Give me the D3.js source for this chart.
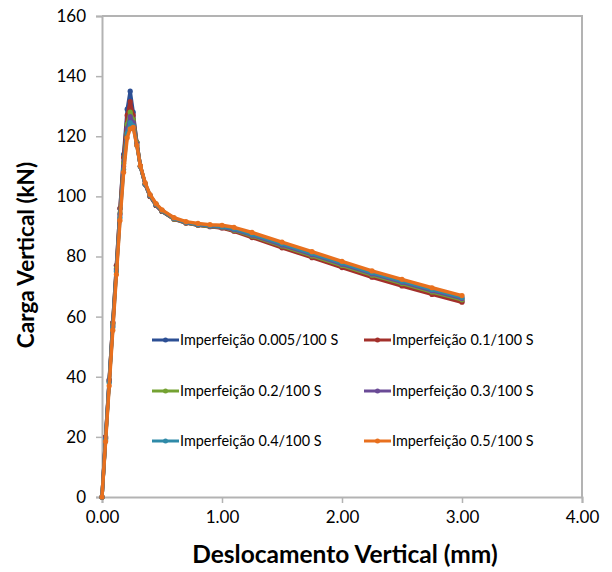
<!DOCTYPE html>
<html>
<head>
<meta charset="utf-8">
<script src="https://cdn.jsdelivr.net/npm/d3@7"></script>
<style>
  body { margin: 0; background: #fff; }
  text { font-family: Lato, "Open Sans", sans-serif; fill: #000; }
</style>
</head>
<body>
<script>
"use strict";

// displacement (mm), shared by every series
var desloc = [0, 0.03, 0.06, 0.09, 0.12, 0.15, 0.18, 0.21, 0.235, 0.26, 0.29, 0.32, 0.36, 0.40, 0.45,
              0.50, 0.60, 0.70, 0.80, 0.90, 1.00, 1.10, 1.25, 1.50, 1.75, 2.00, 2.25, 2.50, 2.75, 3.00];

// load (kN) for each imperfection
var carga005 = [0, 20, 39, 58, 77, 96, 114, 129, 135, 128, 118, 110, 104, 100, 97,
                95, 92.5, 91.2, 90.5, 90.0, 89.6, 88.6, 86.6, 83.2, 79.9, 76.6, 73.4, 70.6, 67.8, 65.2];
var carga01  = [0, 20, 39, 58, 77, 96, 113, 127, 131.5, 127, 118, 110, 104, 100, 97,
                95, 92.4, 91.1, 90.4, 89.9, 89.5, 88.4, 86.3, 82.9, 79.6, 76.3, 73.1, 70.2, 67.4, 64.8];
var carga02  = [0, 19.5, 38.5, 57.5, 76, 94.5, 111, 124, 128, 125.5, 118, 110, 104, 100.2, 97.2,
                95.1, 92.5, 91.2, 90.5, 90.0, 89.7, 88.7, 86.8, 83.5, 80.2, 77.0, 73.8, 71.0, 68.2, 65.6];
var carga03  = [0, 19.5, 38.5, 57, 75.5, 94, 110, 122.5, 126.5, 124.5, 117.5, 110, 104, 100.3, 97.3,
                95.2, 92.6, 91.3, 90.6, 90.1, 89.8, 88.9, 87.1, 83.8, 80.6, 77.4, 74.2, 71.4, 68.6, 66.0];
var carga04  = [0, 19, 38, 56.5, 75, 93, 109, 121, 124.5, 123.5, 117, 110, 104.2, 100.4, 97.4,
                95.3, 92.7, 91.4, 90.7, 90.3, 90.0, 89.2, 87.4, 84.2, 81.0, 77.8, 74.6, 71.8, 69.0, 66.4];
var carga05  = [0, 18.5, 37, 55.5, 74, 92, 108, 119.5, 122.5, 123, 117, 110.2, 104.5, 100.6, 97.6,
                95.5, 92.9, 91.6, 91.0, 90.6, 90.4, 89.7, 88.0, 84.8, 81.6, 78.4, 75.2, 72.4, 69.6, 67.0];

var seriesNames = ["Imperfeição 0.005/100 S", "Imperfeição 0.1/100 S", "Imperfeição 0.2/100 S",
                   "Imperfeição 0.3/100 S", "Imperfeição 0.4/100 S", "Imperfeição 0.5/100 S"];
var seriesColors = ["#2c4f94", "#a3302b", "#74a232", "#6a4a96", "#2f8aa8", "#e8701e"];

var xTicks = [0, 1, 2, 3, 4];
var yTicks = [0, 20, 40, 60, 80, 100, 120, 140, 160];

var width = 612;
var height = 572;
var margin = { top: 16, left: 102, right: 30, bottom: 75 };

var allSeries = [carga005, carga01, carga02, carga03, carga04, carga05].map(function(vals, i) {
	return {
		name: seriesNames[i],
		color: seriesColors[i],
		points: vals.map(function(v, j) { return [desloc[j], v]; })
	};
});

var svg = d3.select("body").append("svg")
	.attr("width", width)
	.attr("height", height);

var xScale = d3.scaleLinear()
	.domain([0, 4])
	.range([margin.left, width - margin.right]);

var yScale = d3.scaleLinear()
	.domain([0, 160])
	.range([height - margin.bottom, margin.top]);

var axisColor = "#b3b3b3";

// plot frame (top + right)
svg.append("path")
	.attr("d", "M" + xScale(0) + "," + yScale(160) + "H" + xScale(4) + "V" + yScale(0))
	.attr("fill", "none")
	.attr("stroke", axisColor)
	.attr("stroke-width", 2);

// y axis
var yAxis = svg.append("g")
	.attr("transform", "translate(" + xScale(0) + ",0)")
	.call(d3.axisLeft(yScale).tickValues(yTicks).tickSize(6).tickPadding(10).tickFormat(d3.format("d")));
yAxis.select(".domain").attr("stroke", axisColor).attr("stroke-width", 2);
yAxis.selectAll(".tick line").attr("stroke", axisColor).attr("stroke-width", 1.5);
yAxis.selectAll(".tick text").style("font-size", "17px").attr("fill", "#000");

// x axis
var xAxis = svg.append("g")
	.attr("transform", "translate(0," + yScale(0) + ")")
	.call(d3.axisBottom(xScale).tickValues(xTicks).tickSize(6).tickPadding(8).tickFormat(d3.format(".2f")));
xAxis.select(".domain").attr("stroke", axisColor).attr("stroke-width", 2);
xAxis.selectAll(".tick line").attr("stroke", axisColor).attr("stroke-width", 1.5);
xAxis.selectAll(".tick text").style("font-size", "17px").attr("fill", "#000");

// axis titles
svg.append("text")
	.attr("x", 345)
	.attr("y", 563)
	.attr("text-anchor", "middle")
	.style("font-size", "24.5px")
	.style("font-weight", "bold")
	.text("Deslocamento Vertical (mm)");

svg.append("text")
	.attr("transform", "translate(34," + 255 + ") rotate(-90)")
	.attr("text-anchor", "middle")
	.style("font-size", "22.5px")
	.style("font-weight", "bold")
	.text("Carga Vertical (kN)");

// series
var line = d3.line()
	.x(function(d) { return xScale(d[0]); })
	.y(function(d) { return yScale(d[1]); });

var seriesG = svg.selectAll(".serie")
	.data(allSeries)
	.enter()
	.append("g")
	.attr("class", "serie");

seriesG.append("path")
	.attr("d", function(d) { return line(d.points); })
	.attr("fill", "none")
	.attr("stroke", function(d) { return d.color; })
	.attr("stroke-width", 3.5)
	.attr("stroke-linejoin", "round");

seriesG.selectAll("circle")
	.data(function(d) { return d.points.map(function(p) { return { p: p, color: d.color }; }); })
	.enter()
	.append("circle")
	.attr("cx", function(d) { return xScale(d.p[0]); })
	.attr("cy", function(d) { return yScale(d.p[1]); })
	.attr("r", 2.6)
	.attr("fill", function(d) { return d.color; });

// legend, 2 columns x 3 rows
var legendX = [152, 364];
var legendY = [340, 391, 441];

var legend = svg.selectAll(".legend-item")
	.data(allSeries)
	.enter()
	.append("g")
	.attr("class", "legend-item")
	.attr("transform", function(d, i) {
		return "translate(" + legendX[i % 2] + "," + legendY[Math.floor(i / 2)] + ")";
	});

legend.append("line")
	.attr("x1", 0).attr("x2", 27)
	.attr("y1", 0).attr("y2", 0)
	.attr("stroke", function(d) { return d.color; })
	.attr("stroke-width", 3);

legend.append("circle")
	.attr("cx", 13.5).attr("cy", 0).attr("r", 2.5)
	.attr("fill", function(d) { return d.color; });

legend.append("text")
	.attr("x", 28)
	.attr("y", 5)
	.style("font-size", "14.4px")
	.text(function(d) { return d.name; });
</script>
</body>
</html>
